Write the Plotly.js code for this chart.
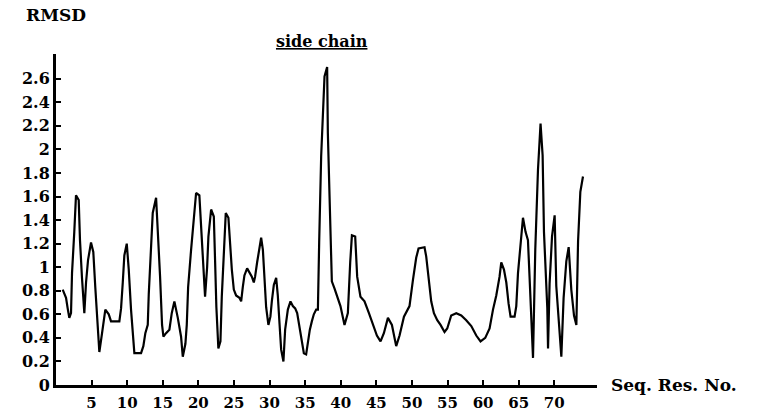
<!DOCTYPE html>
<html>
<head>
<meta charset="utf-8">
<script src="https://cdn.plot.ly/plotly-3.0.1.min.js"></script>
<style>html,body{margin:0;padding:0;background:#fff}#chart{width:757px;height:414px}</style>
</head>
<body>
<div id="chart"></div>
<script>
// Residue position (Seq. Res. No.) and side-chain RMSD
const residue = [0.94,1.41,1.64,1.87,2.11,2.25,2.57,2.81,3.19,3.37,3.65,3.98,4.22,4.50,4.92,5.24,5.52,5.86,6.09,6.47,6.93,7.41,7.73,8.90,9.14,9.38,9.60,9.94,10.22,10.54,10.78,11.01,11.95,12.27,12.55,12.89,13.03,13.35,13.59,14.06,14.30,14.62,14.90,15.09,15.46,15.93,16.26,16.63,17.11,17.57,17.81,18.18,18.37,18.56,18.98,19.22,19.44,19.68,20.14,20.38,20.62,20.94,21.23,21.41,21.79,22.17,22.35,22.53,22.81,23.10,23.29,23.57,23.85,24.22,24.46,24.70,24.98,25.30,25.77,26.01,26.24,26.47,26.85,27.17,27.51,27.79,27.97,28.25,28.58,28.82,29.06,29.28,29.52,29.84,30.12,30.32,30.60,30.93,31.16,31.39,31.63,31.95,32.19,32.57,32.94,33.27,33.60,33.88,34.20,34.54,34.82,35.14,35.38,35.66,35.94,36.22,36.55,36.79,36.97,37.25,37.72,38.09,38.19,38.52,38.75,39.12,39.50,39.96,40.53,41.00,41.33,41.57,42.03,42.31,42.77,43.34,43.96,44.52,45.08,45.59,46.06,46.63,47.19,47.79,48.26,48.88,49.66,50.14,50.60,50.93,51.77,52.01,52.33,52.71,53.09,53.56,54.02,54.58,54.96,55.52,56.23,56.93,57.63,58.34,59.04,59.64,60.30,60.91,61.39,61.85,62.31,62.55,62.93,63.26,63.58,63.86,64.42,64.66,64.90,65.26,65.60,65.96,66.30,66.53,66.77,67.01,67.33,67.71,68.07,68.36,68.55,69.02,69.12,69.34,69.68,70.05,70.28,70.75,70.99,71.31,71.69,72.02,72.39,72.77,73.10,73.34,73.66,74.03];
const rmsd = [0.81,0.74,0.65,0.57,0.61,0.95,1.30,1.61,1.57,1.23,0.91,0.61,0.87,1.06,1.21,1.13,0.83,0.51,0.28,0.44,0.64,0.60,0.54,0.54,0.65,0.87,1.10,1.20,0.98,0.64,0.43,0.27,0.27,0.33,0.44,0.51,0.77,1.12,1.46,1.59,1.32,0.92,0.51,0.41,0.44,0.47,0.61,0.71,0.57,0.41,0.24,0.35,0.51,0.83,1.15,1.30,1.47,1.63,1.61,1.32,1.02,0.75,1.00,1.26,1.49,1.43,1.05,0.66,0.31,0.37,0.75,1.16,1.46,1.42,1.19,0.98,0.81,0.76,0.74,0.71,0.83,0.93,0.99,0.96,0.92,0.87,0.92,1.04,1.16,1.25,1.15,0.89,0.66,0.51,0.58,0.71,0.85,0.91,0.76,0.53,0.30,0.20,0.47,0.64,0.71,0.67,0.65,0.61,0.50,0.38,0.27,0.26,0.38,0.47,0.54,0.60,0.64,0.64,1.21,1.94,2.62,2.70,2.14,1.51,0.88,0.82,0.76,0.67,0.51,0.61,1.04,1.27,1.26,0.92,0.75,0.71,0.61,0.51,0.42,0.37,0.44,0.57,0.51,0.33,0.42,0.58,0.67,0.89,1.08,1.16,1.17,1.09,0.91,0.71,0.61,0.55,0.51,0.45,0.48,0.59,0.61,0.59,0.55,0.50,0.42,0.37,0.40,0.48,0.64,0.76,0.92,1.04,0.98,0.87,0.69,0.58,0.58,0.67,0.95,1.22,1.42,1.30,1.23,0.91,0.48,0.23,1.15,1.83,2.22,1.95,1.30,0.65,0.31,0.86,1.26,1.44,0.84,0.44,0.24,0.74,1.05,1.17,0.81,0.59,0.51,1.22,1.64,1.77];
const xTickVals = [5,10,15,20,25,30,35,40,45,50,55,60,65,70];
const xTickText = ["5","10","15","20","25","30","35","40","45","50","55","60","65","70"];
const yTickVals = [0,0.2,0.4,0.6,0.8,1,1.2,1.4,1.6,1.8,2,2.2,2.4,2.6];
const yTickText = ["0","0.2","0.4","0.6","0.8","1","1.2","1.4","1.6","1.8","2","2.2","2.4","2.6"];

const FONT = "DejaVu Serif";
const trace = {
  x: residue, y: rmsd, type: "scatter", mode: "lines",
  line: {color: "#000", width: 2.2}, hoverinfo: "skip"
};
const layout = {
  width: 757, height: 414,
  margin: {l: 56, r: 160, t: 54, b: 29, pad: 0},
  paper_bgcolor: "#fff", plot_bgcolor: "#fff",
  showlegend: false,
  font: {family: FONT, color: "#000", size: 15, weight: "bold"},
  title: {text: "<u>side chain</u>", x: 0.425, xanchor: "center", y: 0.9, yanchor: "middle",
          font: {family: FONT, size: 16, color: "#000", weight: "bold"}},
  xaxis: {
    range: [0, 76], showgrid: false, zeroline: false,
    showline: true, linecolor: "#000", linewidth: 3,
    ticks: "inside", ticklen: 5, tickwidth: 2, tickcolor: "#000",
    tickmode: "array", tickvals: xTickVals, ticktext: xTickText,
    tickfont: {family: FONT, size: 15, color: "#000", weight: "bold"},
    ticklabelstandoff: 2, fixedrange: true
  },
  yaxis: {
    range: [0, 2.81], showgrid: false, zeroline: false,
    showline: true, linecolor: "#000", linewidth: 3,
    ticks: "inside", ticklen: 5, tickwidth: 2, tickcolor: "#000",
    tickmode: "array", tickvals: yTickVals, ticktext: yTickText,
    tickfont: {family: FONT, size: 16, color: "#000", weight: "bold"},
    ticklabelstandoff: 0, fixedrange: true
  },
  annotations: [
    {text: "RMSD", xref: "paper", yref: "paper", x: 0, y: 1.0, yshift: 39,
     xanchor: "center", yanchor: "middle", showarrow: false,
     font: {family: FONT, size: 17, color: "#000", weight: "bold"}},
    {text: "Seq. Res. No.", xref: "paper", yref: "paper", x: 1.0, y: 0, xshift: 12,
     xanchor: "left", yanchor: "middle", showarrow: false,
     font: {family: FONT, size: 17, color: "#000", weight: "bold"}}
  ]
};
Plotly.newPlot("chart", [trace], layout, {displayModeBar: false, staticPlot: true});
</script>
</body>
</html>
